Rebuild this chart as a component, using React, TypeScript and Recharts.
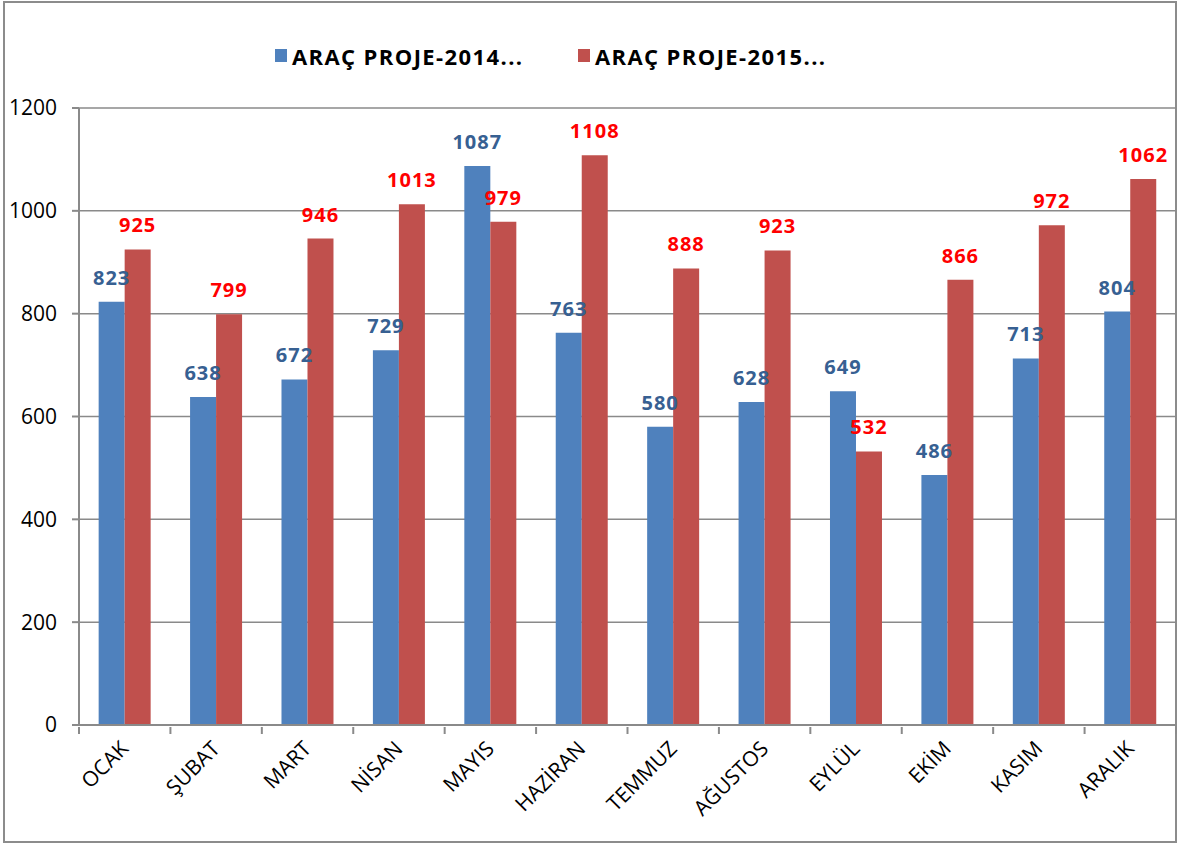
import React from "react";
import { BarChart, Bar, XAxis, YAxis, CartesianGrid, LabelList } from "recharts";

const months = ["OCAK", "ŞUBAT", "MART", "NİSAN", "MAYIS", "HAZİRAN", "TEMMUZ", "AĞUSTOS", "EYLÜL", "EKİM", "KASIM", "ARALIK"];
const proje2014 = [823, 638, 672, 729, 1087, 763, 580, 628, 649, 486, 713, 804];
const proje2015 = [925, 799, 946, 1013, 979, 1108, 888, 923, 532, 866, 972, 1062];
const yTicks = [0, 200, 400, 600, 800, 1000, 1200];
const seriesNames = ["ARAÇ PROJE-2014...", "ARAÇ PROJE-2015..."];

const W = 1180;
const H = 845;
const Y_AXIS_W = 79;
const RIGHT = 4;
const BAND = (W - Y_AXIS_W - RIGHT) / months.length;
const FONT = "'Open Sans', sans-serif";
const GRID = "#8a8a8a";

const data = months.map((m, i) => ({ month: m, a: proje2014[i], b: proje2015[i] }));

// excel style: tick marks sit between categories, labels turned 45 degrees
const MonthTick = (props: any) => {
  const { x, y, payload, index } = props;
  const top = y;
  return (
    <g>
      <line x1={x - BAND / 2} x2={x - BAND / 2} y1={top} y2={top + 7} stroke={GRID} strokeWidth={2} />
      {index === months.length - 1 && (
        <line x1={x + BAND / 2} x2={x + BAND / 2} y1={top} y2={top + 7} stroke={GRID} strokeWidth={2} />
      )}
      <text
        transform={`translate(${x + 5},${top + 23}) rotate(-45)`}
        textAnchor="end"
        fontSize={21}
        fontFamily={FONT}
        fill="#000"
      >
        {payload.value}
      </text>
    </g>
  );
};

const LegendBox = () => (
  <div
    style={{
      position: "absolute",
      left: 0,
      top: 40,
      width: W,
      height: 32,
      fontFamily: FONT,
      fontWeight: 700,
      fontSize: 22,
      letterSpacing: 1.4,
      lineHeight: "32px",
    }}
  >
    <div style={{ position: "absolute", left: 275, top: 9, width: 12, height: 13, background: "#4F81BD" }} />
    <div style={{ position: "absolute", left: 292, top: 0, whiteSpace: "nowrap" }}>{seriesNames[0]}</div>
    <div style={{ position: "absolute", left: 578, top: 9, width: 12, height: 13, background: "#C0504D" }} />
    <div style={{ position: "absolute", left: 595, top: 0, whiteSpace: "nowrap" }}>{seriesNames[1]}</div>
  </div>
);

export default function App() {
  return (
    <div style={{ position: "absolute", left: 0, top: 0, width: W, height: H, background: "#fff" }}>
      <div
        style={{
          position: "absolute",
          left: 3,
          top: 1,
          width: 1174,
          height: 842,
          border: "2px solid #8c8c8c",
          boxSizing: "border-box",
        }}
      />
      <LegendBox />
      <BarChart
        width={W}
        height={H}
        data={data}
        margin={{ top: 108, right: RIGHT, left: 0, bottom: 0 }}
        barCategoryGap="21.5%"
        barGap={0}
      >
        <CartesianGrid vertical={false} stroke={GRID} strokeWidth={1.5} />
        <XAxis
          dataKey="month"
          height={120}
          interval={0}
          tickLine={false}
          tickSize={0}
          tick={<MonthTick />}
          axisLine={{ stroke: GRID, strokeWidth: 2 }}
        />
        <YAxis
          width={Y_AXIS_W}
          domain={[0, 1200]}
          ticks={yTicks}
          interval={0}
          tickSize={7}
          tickMargin={15}
          tickLine={{ stroke: GRID, strokeWidth: 2 }}
          axisLine={{ stroke: GRID, strokeWidth: 2 }}
          tick={{ fontSize: 21, fontFamily: FONT, fill: "#000" }}
        />
        <Bar dataKey="a" name={seriesNames[0]} fill="#4F81BD" isAnimationActive={false}>
          <LabelList
            dataKey="a"
            position="top"
            offset={17}
            fill="#376092"
            fontSize={20}
            fontWeight={700}
            fontFamily={FONT}
            letterSpacing={1}
          />
        </Bar>
        <Bar dataKey="b" name={seriesNames[1]} fill="#C0504D" isAnimationActive={false}>
          <LabelList
            dataKey="b"
            position="top"
            offset={17}
            fill="#FF0000"
            fontSize={20}
            fontWeight={700}
            fontFamily={FONT}
            letterSpacing={1}
          />
        </Bar>
      </BarChart>
    </div>
  );
}
